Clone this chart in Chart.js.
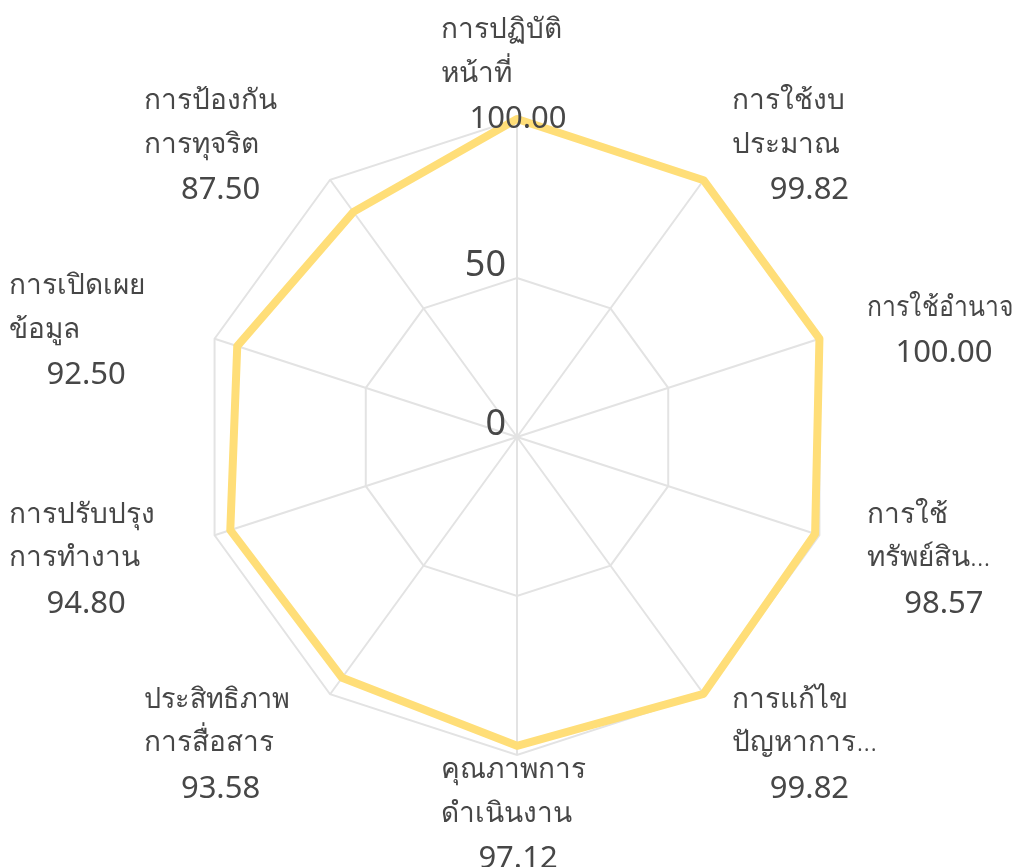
<!DOCTYPE html>
<html>
<head>
<meta charset="utf-8">
<script src="https://cdn.jsdelivr.net/npm/chart.js@4/dist/chart.umd.min.js"></script>
<style>
  html, body { margin: 0; padding: 0; background: #ffffff; }
  #wrap { width: 1018px; height: 867px; position: relative; }
</style>
</head>
<body>
<div id="wrap"><canvas id="c" width="1018" height="867"></canvas></div>
<script>
// ---- data ----
const categories = [
  ['การปฏิบัติ', 'หน้าที่'],
  ['การใช้งบ', 'ประมาณ'],
  ['การใช้อำนาจ'],
  ['การใช้', 'ทรัพย์สิน...'],
  ['การแก้ไข', 'ปัญหาการ...'],
  ['คุณภาพการ', 'ดำเนินงาน'],
  ['ประสิทธิภาพ', 'การสื่อสาร'],
  ['การปรับปรุง', 'การทำงาน'],
  ['การเปิดเผย', 'ข้อมูล'],
  ['การป้องกัน', 'การทุจริต']
];
const scores = [100.00, 99.82, 100.00, 98.57, 99.82, 97.12, 93.58, 94.80, 92.50, 87.50];
const tickValues = [0, 50, 100];
const tickLabels = ['0', '50', ''];

const FONT = "'Noto Sans', 'Open Sans', sans-serif";
const TEXT_COLOR = '#474747';

// custom label painter, positioned from the radial scale
const labelPainter = {
  id: 'labelPainter',
  afterDraw(chart) {
    const scale = chart.scales.r;
    const ctx = chart.ctx;
    const cx = scale.xCenter, cy = scale.yCenter;
    const blockW = 152, lineH = 43.5;
    ctx.save();
    ctx.fillStyle = TEXT_COLOR;
    ctx.textBaseline = 'middle';
    chart.data.labels.forEach((lines, i) => {
      const p = scale.getPointPosition(i, scale.drawingArea + 52);
      let left;
      if (Math.abs(p.x - cx) < 2) left = p.x - blockW / 2;
      else if (p.x > cx) left = p.x - 2;
      else left = p.x - blockW - 4;
      const all = lines.concat([chart.data.datasets[0].data[i].toFixed(2)]);
      const n = all.length;
      all.forEach((t, k) => {
        const y = p.y + 7 + (k - (n - 1) / 2) * lineH;
        if (k === n - 1) {
          ctx.font = '31px ' + FONT;
          ctx.textAlign = 'center';
          ctx.fillText(t, left + blockW / 2 + 1, y + 2);
        } else {
          ctx.font = '300 28px ' + FONT;
          ctx.textAlign = 'left';
          ctx.fillText(t, left, y, 146);
        }
      });
    });
    // tick labels
    ctx.font = '36px ' + FONT;
    ctx.textAlign = 'right';
    ctx.textBaseline = 'alphabetic';
    scale.ticks.forEach((t) => {
      const lbl = tickLabels[tickValues.indexOf(t.value)];
      if (!lbl) return;
      const d = scale.getDistanceFromCenterForValue(t.value);
      ctx.fillText(lbl, cx - 11, cy - d - 2);
    });
    ctx.restore();
  }
};

new Chart(document.getElementById('c'), {
  type: 'radar',
  data: {
    labels: categories,
    datasets: [{
      data: scores,
      borderColor: '#ffde78',
      backgroundColor: 'rgba(0,0,0,0)',
      fill: false,
      borderWidth: 8,
      borderJoinStyle: 'round',
      pointRadius: 0,
      pointHoverRadius: 0,
      tension: 0
    }]
  },
  options: {
    responsive: false,
    animation: false,
    layout: { padding: { left: 199, right: 183, top: 119, bottom: 112 } },
    plugins: { legend: { display: false }, tooltip: { enabled: false } },
    scales: {
      r: {
        min: 0,
        max: 100,
        ticks: { display: false, stepSize: 50 },
        grid: { color: '#e3e3e3', lineWidth: 2 },
        angleLines: { color: '#e3e3e3', lineWidth: 2 },
        pointLabels: { display: false }
      }
    }
  },
  plugins: [labelPainter]
});
</script>
</body>
</html>
